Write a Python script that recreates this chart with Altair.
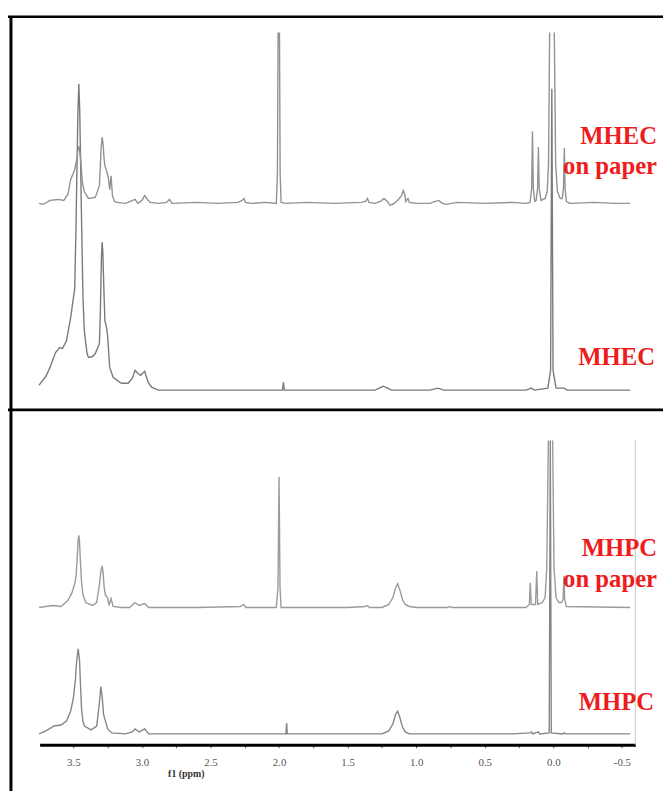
import altair as alt
import pandas as pd

N = None  # visible top of a clipped peak (path break)

# ---------------- spectra (ppm, intensity above own baseline) ----------------
mhec_paper_ppm = [3.75, 3.72, 3.67, 3.61, 3.57, 3.54, 3.52, 3.49, 3.475, 3.465, 3.46, 3.455, 3.445, 3.435, 3.42,
                  3.39, 3.34, 3.31, 3.305, 3.298, 3.29, 3.283, 3.277, 3.27, 3.26, 3.245, 3.235, 3.225, 3.215,
                  3.20, 3.18, 3.12, 3.05, 3.03, 3.00, 2.98, 2.96, 2.94, 2.88, 2.82, 2.80, 2.78, 2.60, 2.45,
                  2.30, 2.27, 2.255, 2.245, 2.20, 2.10, 2.02, 2.012, 2.007, 2.002, 1.997, 1.992, 1.985, 1.95,
                  1.80, 1.60, 1.40, 1.37, 1.355, 1.345, 1.30, 1.26, 1.235, 1.21, 1.19, 1.16, 1.13, 1.105,
                  1.095, 1.085, 1.075, 1.06, 1.05, 1.00, 0.90, 0.86, 0.835, 0.81, 0.78, 0.70, 0.50, 0.30,
                  0.20, 0.17, 0.158, 0.152, 0.146, 0.135, 0.125, 0.115, 0.109, 0.103, 0.09, 0.06, 0.045,
                  0.035, 0.027, 0.01, -0.007, -0.017, -0.03, -0.05, -0.065, -0.074, -0.08, -0.086, -0.095,
                  -0.12, -0.30, -0.45, -0.56]
mhec_paper_int = [0, -1, 3, 4, 3, 9, 24, 34, 45, 55, 58, 55, 41, 22, 12,
                  5, 6, 18, 32, 55, 67, 60, 47, 38, 34, 26, 14, 28, 8,
                  2, 1, 0, 4, 0, 3, 8, 4, 1, 0, 1, 4, 0, 1, 0,
                  1, 3, 5, 1, 0, 1, 0, 30, 173, N, 173, 30, 1, 0,
                  1, 0, 1, 2, 5, 1, 0, 2, 5, 2, -2, 0, 4, 8,
                  13, 10, 2, 5, 1, 0, 0, 2, 3, 0, -1, 1, 0, 1,
                  0, 1, 15, 73, 15, 2, 3, 15, 57, 15, 3, 5, 12,
                  40, 173, N, 173, 40, 12, 5, 5, 15, 56, 15, 2,
                  0, 1, 0, 0]

mhec_ppm = [3.75, 3.70, 3.67, 3.63, 3.60, 3.58, 3.55, 3.52, 3.49, 3.48, 3.467, 3.46, 3.453, 3.44, 3.43,
            3.42, 3.40, 3.39, 3.36, 3.34, 3.31, 3.303, 3.295, 3.29, 3.285, 3.278, 3.27, 3.26, 3.25, 3.235,
            3.21, 3.15, 3.10, 3.07, 3.05, 3.03, 3.01, 2.98, 2.955, 2.93, 2.88, 2.50, 2.00, 1.975, 1.968,
            1.962, 1.50, 1.30, 1.27, 1.24, 1.21, 1.18, 0.90, 0.84, 0.80, 0.20, 0.16, 0.14, 0.04, 0.02,
            0.011, 0.002, -0.02, -0.08, -0.10, -0.56]
mhec_int = [5, 14, 23, 38, 43, 42, 50, 73, 103, 170, 280, 310, 280, 170, 95,
            60, 37, 33, 34, 37, 47, 80, 135, 150, 140, 105, 70, 65, 55, 23,
            13, 7, 7, 12, 20, 17, 15, 19, 8, 3, 0, 0, 0, 0, 8,
            0, 0, 0, 2, 4, 2, 0, 0, 2, 0, 0, 2, 0, 2, 20,
            305, 20, 2, 2, 0, 0]

mhpc_paper_ppm = [3.75, 3.65, 3.59, 3.54, 3.51, 3.49, 3.48, 3.472, 3.465, 3.46, 3.455, 3.448, 3.44, 3.43, 3.41,
                  3.36, 3.33, 3.31, 3.30, 3.29, 3.283, 3.275, 3.265, 3.25, 3.24, 3.225, 3.21, 3.15, 3.09, 3.05,
                  3.02, 2.98, 2.95, 2.60, 2.28, 2.26, 2.24, 2.02, 2.008, 2.00, 1.993, 1.985, 1.50, 1.37,
                  1.355, 1.34, 1.25, 1.20, 1.17, 1.15, 1.135, 1.12, 1.10, 1.08, 1.05, 1.00, 0.77, 0.76,
                  0.74, 0.20, 0.175, 0.168, 0.161, 0.13, 0.121, 0.114, 0.08, 0.06, 0.048, 0.036, 0.02,
                  0.005, -0.005, -0.02, -0.04, -0.06, -0.071, -0.077, -0.083, -0.095, -0.56]
mhpc_paper_int = [0, 2, 1, 7, 15, 24, 32, 50, 68, 73, 66, 45, 25, 13, 5,
                  2, 5, 23, 36, 42, 35, 20, 12, 10, 2, 9, 1, 0, 0, 5,
                  2, 4, 0, 0, 1, 3, 0, 0, 20, 132, 20, 0, 0, 1,
                  2, 0, 0, 3, 10, 20, 24, 18, 8, 3, 1, 0, 0, 1,
                  0, 0, 3, 25, 3, 3, 37, 3, 5, 10, 40, 169, N,
                  169, 40, 10, 5, 5, 8, 32, 8, 1, 0]

mhpc_ppm = [3.75, 3.70, 3.64, 3.59, 3.55, 3.52, 3.50, 3.485, 3.475, 3.465, 3.455, 3.448, 3.44, 3.43, 3.42,
            3.37, 3.33, 3.31, 3.30, 3.29, 3.28, 3.27, 3.25, 3.22, 3.12, 3.07, 3.05, 3.02, 2.98, 2.95,
            2.50, 1.95, 1.945, 1.94, 1.50, 1.25, 1.20, 1.17, 1.15, 1.135, 1.12, 1.10, 1.08, 1.05, 0.30,
            0.17, 0.16, 0.15, 0.11, 0.10, 0.03, 0.022, 0.015, -0.07, -0.08, -0.09, -0.56]
mhpc_int = [0, 3, 8, 9, 13, 23, 36, 55, 75, 86, 75, 50, 25, 13, 8,
            4, 8, 31, 48, 38, 20, 15, 5, 1, 0, 2, 5, 2, 5, 0,
            0, 0, 11, 0, 0, 0, 3, 10, 20, 23, 17, 7, 2, 0, 0,
            1, 2, 0, 2, 0, 1, 297, 1, 0, 1, 0, 0]

labels = ["MHEC", "on paper", "MHEC", "MHPC", "on paper", "MHPC"]
tick_values = [-0.5, -0.25, 0.0, 0.25, 0.5, 0.75, 1.0, 1.25, 1.5, 1.75, 2.0, 2.25, 2.5, 2.75,
               3.0, 3.25, 3.5]

# ---------------- layout ----------------
W, H = 603, 737
baselines = {"mhec_paper": 548, "mhec": 359, "mhpc_paper": 139, "mhpc": 11}

xaxis = alt.Axis(
    values=tick_values,
    labelExpr="abs(datum.value * 2 - round(datum.value * 2)) < 0.001 ? replace(format(datum.value, '.1f'), '\u2212', '-') : ''",
    domainColor="black", domainWidth=3, tickColor="#555555", tickSize=3, tickWidth=1,
    labelFont="Liberation Serif", labelFontSize=11, labelColor="#555555", labelPadding=9,
    labelOverlap=False, labelFlush=False, grid=False,
    title="f1 (ppm)", titleFont="Liberation Serif", titleFontSize=10, titleFontWeight="bold",
    titleColor="#333333", titleX=148, titleY=29, titleBaseline="middle", titleAlign="center",
)
x_enc = alt.X("ppm:Q", scale=alt.Scale(domain=[-0.598, 3.746], reverse=True, nice=False, zero=False),
              axis=xaxis)
y_enc = alt.Y("y:Q", scale=alt.Scale(domain=[0, H], nice=False, zero=False), axis=None)


def spectrum(ppm, inten, base, color, width=1.4):
    df = pd.DataFrame({"ppm": ppm, "i": pd.array(inten, dtype="Float64").astype(float)})
    return (
        alt.Chart(df)
        .transform_calculate(y=f"isValid(datum.i) ? datum.i + {base} : null")
        .mark_line(color=color, strokeWidth=width, invalid="break-paths-filter-domains")
        .encode(x=x_enc, y=y_enc)
    )


one = pd.DataFrame({"a": [0]})


def hrule(y, x1, x2, w, color):
    return alt.Chart(one).mark_rule(color=color, strokeWidth=w).encode(
        x=alt.value(x1), x2=alt.value(x2), y=alt.value(y))


def vrule(x, y1, y2, w, color):
    return alt.Chart(one).mark_rule(color=color, strokeWidth=w).encode(
        x=alt.value(x), y=alt.value(y1), y2=alt.value(y2))


def label(text, x, y):
    return alt.Chart(pd.DataFrame({"t": [text]})).mark_text(
        align="right", baseline="alphabetic", font="Liberation Serif", fontWeight="bold",
        fontSize=25, color="#ee1c1c").encode(x=alt.value(x), y=alt.value(y), text="t:N")


layers = [
    spectrum(mhec_ppm, mhec_int, baselines["mhec"], "#7a7a7a"),
    spectrum(mhec_paper_ppm, mhec_paper_int, baselines["mhec_paper"], "#929292"),
    spectrum(mhpc_paper_ppm, mhpc_paper_int, baselines["mhpc_paper"], "#9a9a9a"),
    spectrum(mhpc_ppm, mhpc_int, baselines["mhpc"], "#858585"),
    hrule(0, -32, 640, 2.5, "black"),
    hrule(398, -32, 640, 3, "black"),
    vrule(-29, 0, 790, 3, "black"),
    vrule(603, 428, 737, 1, "#c8c8c8"),
    label(labels[0], 625, 129),
    label(labels[1], 625, 159),
    label(labels[2], 623, 353),
    label(labels[3], 625, 546),
    label(labels[4], 625, 577),
    label(labels[5], 622, 702),
]

chart = (
    alt.layer(*layers)
    .properties(width=W, height=H, autosize=alt.AutoSizeParams(type="none"),
                padding={"left": 32, "top": 4, "right": 28, "bottom": 42},
                background="white")
    .configure_view(stroke=None)
)

chart.save("out.html", embed_options={"renderer": "svg", "actions": False})
